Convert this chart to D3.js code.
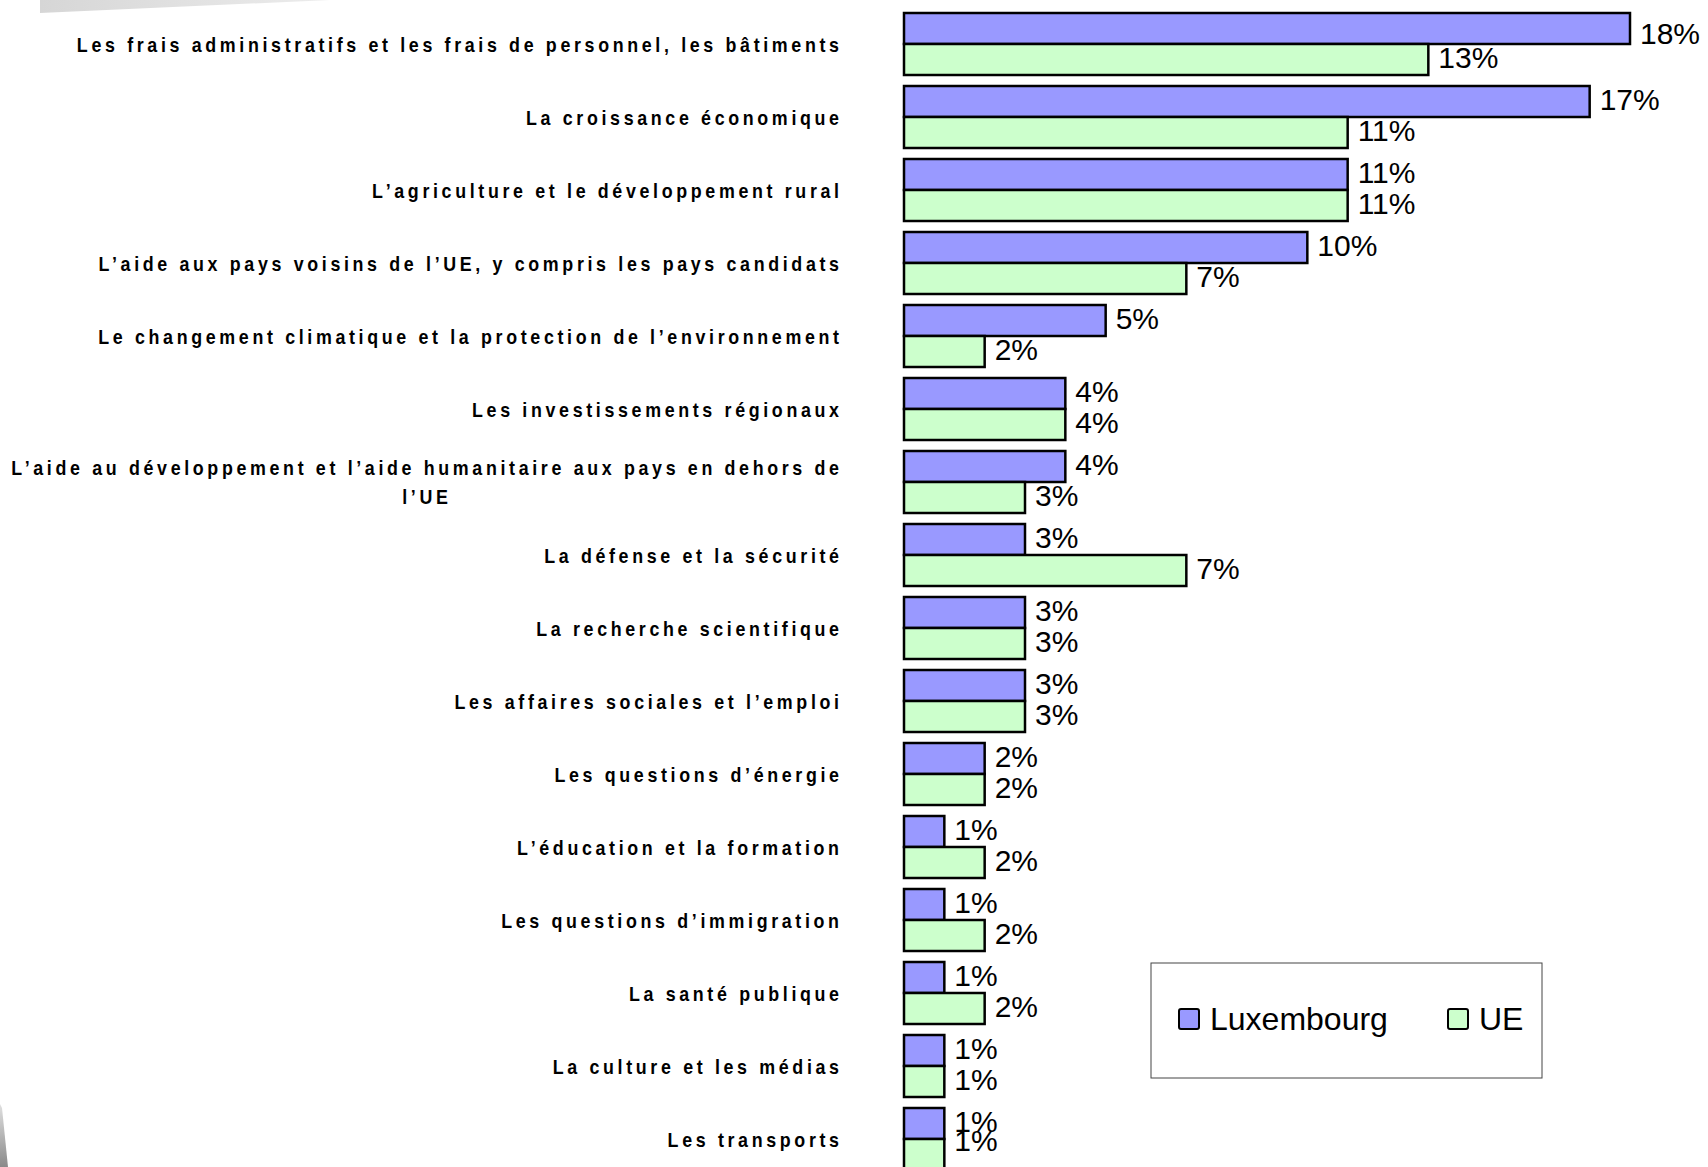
<!DOCTYPE html>
<html>
<head>
<meta charset="utf-8">
<script src="https://cdn.jsdelivr.net/npm/d3@7"></script>
<style>
  html, body { margin: 0; padding: 0; background: #fff; overflow: hidden; }
  svg { display: block; }
</style>
</head>
<body>
<svg id="chart" width="1708" height="1167"></svg>
<script>
// Budget priorities, Luxembourg vs EU average (%)
const categories = [
  "Les frais administratifs et les frais de personnel, les bâtiments",
  "La croissance économique",
  "L’agriculture et le développement rural",
  "L’aide aux pays voisins de l’UE, y compris les pays candidats",
  "Le changement climatique et la protection de l’environnement",
  "Les investissements régionaux",
  "L’aide au développement et l’aide humanitaire aux pays en dehors de\nl’UE",
  "La défense et la sécurité",
  "La recherche scientifique",
  "Les affaires sociales et l’emploi",
  "Les questions d’énergie",
  "L’éducation et la formation",
  "Les questions d’immigration",
  "La santé publique",
  "La culture et les médias",
  "Les transports"
];
const luxembourg = [18, 17, 11, 10, 5, 4, 4, 3, 3, 3, 2, 1, 1, 1, 1, 1];
const ue         = [13, 11, 11, 7, 2, 4, 3, 7, 3, 3, 2, 2, 2, 2, 1, 1];
const seriesNames = ["Luxembourg", "UE"];
const seriesColors = ["#9999FF", "#CCFFCC"];

const svg = d3.select("#chart");
const defs = svg.append("defs");

// Soft grey page ornaments in the corners
const g1 = defs.append("linearGradient").attr("id", "topGrey")
  .attr("x1", "0").attr("x2", "1").attr("y1", "0").attr("y2", "0");
g1.append("stop").attr("offset", "0").attr("stop-color", "#d6d6d6");
g1.append("stop").attr("offset", "1").attr("stop-color", "#ececec");
svg.append("path")
  .attr("d", "M40,0 L330,0 L40,13 Z")
  .attr("fill", "url(#topGrey)");

const g2 = defs.append("linearGradient").attr("id", "sideGrey")
  .attr("x1", "0").attr("x2", "0").attr("y1", "0").attr("y2", "1");
g2.append("stop").attr("offset", "0").attr("stop-color", "#e0e0e0");
g2.append("stop").attr("offset", "1").attr("stop-color", "#8a8a8a");
svg.append("path")
  .attr("d", "M0,1104 L2,1108 L8,1167 L0,1167 Z")
  .attr("fill", "url(#sideGrey)");

// Scales
const idx = d3.range(categories.length);
const y = d3.scaleBand()
  .domain(idx)
  .range([13, 13 + 16 * 73 - 11])
  .paddingInner(11 / 73)
  .paddingOuter(0);
const ySeries = d3.scaleBand()
  .domain(seriesNames)
  .range([0, y.bandwidth()]);
const x = d3.scaleLinear().domain([0, 18]).range([904, 1630]);

const rows = idx.map(i => ({
  i,
  values: [
    { name: seriesNames[0], v: luxembourg[i], color: seriesColors[0] },
    { name: seriesNames[1], v: ue[i], color: seriesColors[1] }
  ]
}));

// Bars
const group = svg.append("g").selectAll("g.row")
  .data(rows).join("g")
  .attr("class", "row")
  .attr("transform", d => `translate(0,${y(d.i)})`);

group.selectAll("rect")
  .data(d => d.values)
  .join("rect")
  .attr("x", x(0))
  .attr("y", d => ySeries(d.name))
  .attr("width", d => x(d.v) - x(0))
  .attr("height", ySeries.bandwidth())
  .attr("fill", d => d.color)
  .attr("stroke", "#000")
  .attr("stroke-width", 2.5);

// Value labels, kept inside the plot area vertically
const valueFont = 30;
const labelTopLimit = 33, labelBottomLimit = 1140;
svg.append("g").selectAll("text.val")
  .data(rows.flatMap(r => r.values.map(v => ({ ...v, i: r.i }))))
  .join("text")
  .attr("class", "val")
  .attr("x", d => x(d.v) + 10)
  .attr("y", d => {
    let c = y(d.i) + ySeries(d.name) + ySeries.bandwidth() / 2 - 2;
    c = Math.max(labelTopLimit, Math.min(labelBottomLimit, c));
    return c + valueFont * 0.355;
  })
  .attr("font-family", "'Liberation Sans', Arial, sans-serif")
  .attr("font-size", valueFont)
  .attr("fill", "#000")
  .text(d => d.v + "%");

// Category labels (bold, condensed, widely tracked)
const labelFont = 21, labelSpacing = 4.3, squeeze = 0.85, labelRight = 839, lineGap = 29.5;
const labels = svg.append("g");
rows.forEach(r => {
  const lines = categories[r.i].split("\n");
  const cy = y(r.i) + y.bandwidth() / 2;
  const t = labels.append("text")
    .attr("transform", `translate(${labelRight},${cy}) scale(${squeeze},1)`)
    .attr("font-family", "'Liberation Sans', Arial, sans-serif")
    .attr("font-weight", "bold")
    .attr("font-size", labelFont)
    .attr("letter-spacing", labelSpacing)
    .attr("fill", "#000");
  if (lines.length === 1) {
    t.attr("text-anchor", "end")
      .attr("x", labelSpacing)
      .attr("y", labelFont * 0.36)
      .text(lines[0]);
  } else {
    const spans = lines.map((ln, k) => t.append("tspan")
      .attr("y", (k - (lines.length - 1) / 2) * lineGap + labelFont * 0.36)
      .text(ln));
    const widest = d3.max(spans, s => s.node().getComputedTextLength());
    spans.forEach(s => s.attr("x", labelSpacing - widest / 2)
      .attr("text-anchor", "middle"));
  }
});

// Legend
const legend = svg.append("g");
legend.append("rect")
  .attr("x", 1151).attr("y", 963).attr("width", 391).attr("height", 115)
  .attr("fill", "#fff").attr("stroke", "#444").attr("stroke-width", 1);
const legendItems = [
  { name: seriesNames[0], color: seriesColors[0], x: 1179 },
  { name: seriesNames[1], color: seriesColors[1], x: 1448 }
];
legendItems.forEach(it => {
  legend.append("rect")
    .attr("x", it.x).attr("y", 1009).attr("width", 20).attr("height", 20)
    .attr("rx", 2)
    .attr("fill", it.color).attr("stroke", "#000").attr("stroke-width", 2);
  legend.append("text")
    .attr("x", it.x + 31).attr("y", 1030)
    .attr("font-family", "'Liberation Sans', Arial, sans-serif")
    .attr("font-size", 32)
    .attr("fill", "#000")
    .text(it.name);
});
</script>
</body>
</html>
